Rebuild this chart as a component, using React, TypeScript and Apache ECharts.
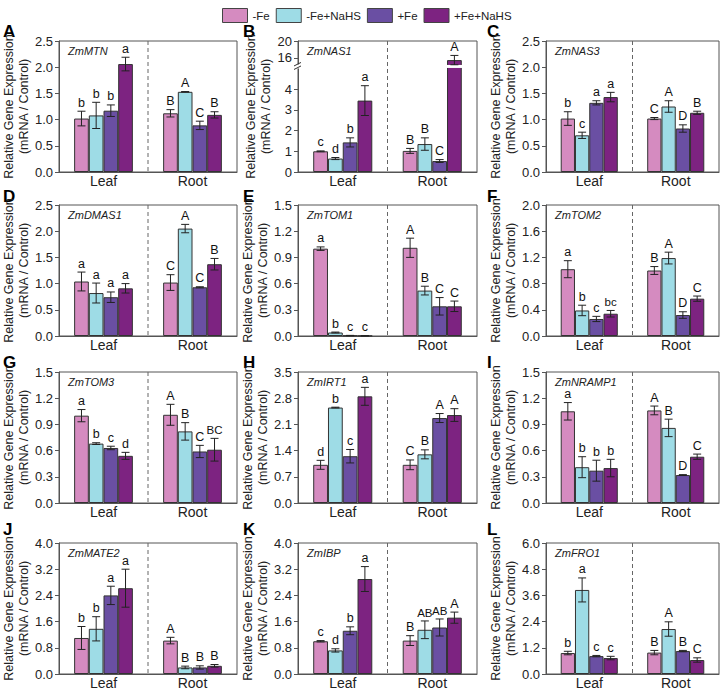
import React, { useEffect, useRef } from 'react';
import * as echarts from 'echarts';

const treatments = ['-Fe', '-Fe+NaHS', '+Fe', '+Fe+NaHS'];
const tissues = ['Leaf', 'Root'];
const colors = ['#D58BC0', '#9EDCE6', '#6A4FA3', '#7D2381'];

// order: Leaf(-Fe, -Fe+NaHS, +Fe, +Fe+NaHS), Root(-Fe, -Fe+NaHS, +Fe, +Fe+NaHS)
const mtnMean = [1.02, 1.08, 1.17, 2.06, 1.12, 1.53, 0.89, 1.09];
const mtnErr = [0.14, 0.25, 0.11, 0.13, 0.07, 0.005, 0.08, 0.06];
const mtnSig = ['b', 'b', 'b', 'a', 'B', 'A', 'C', 'B'];

const nas1Mean = [1.0, 0.65, 1.43, 3.45, 1.02, 1.35, 0.53, 15.5];
const nas1Err = [0.02, 0.05, 0.22, 0.72, 0.12, 0.3, 0.07, 1.1];
const nas1Sig = ['c', 'd', 'b', 'a', 'B', 'B', 'C', 'A'];
const nas1Ticks = [0, 1, 2, 3, 4, 16, 20];

const nas3Mean = [1.02, 0.7, 1.32, 1.43, 1.02, 1.25, 0.83, 1.13];
const nas3Err = [0.13, 0.06, 0.04, 0.09, 0.02, 0.11, 0.07, 0.03];
const nas3Sig = ['b', 'c', 'a', 'a', 'C', 'A', 'D', 'B'];

const dmas1Mean = [1.04, 0.82, 0.74, 0.91, 1.02, 2.05, 0.93, 1.37];
const dmas1Err = [0.18, 0.19, 0.1, 0.09, 0.15, 0.08, 0.01, 0.11];
const dmas1Sig = ['a', 'a', 'a', 'a', 'C', 'A', 'C', 'B'];

const tom1Mean = [1.0, 0.04, 0.005, 0.002, 1.01, 0.52, 0.34, 0.34];
const tom1Err = [0.02, 0.005, 0.002, 0.001, 0.11, 0.05, 0.1, 0.06];
const tom1Sig = ['a', 'b', 'c', 'c', 'A', 'B', 'C', 'C'];

const tom2Mean = [1.02, 0.39, 0.26, 0.34, 1.0, 1.19, 0.32, 0.57];
const tom2Err = [0.13, 0.08, 0.04, 0.05, 0.06, 0.09, 0.05, 0.04];
const tom2Sig = ['a', 'b', 'c', 'bc', 'B', 'A', 'D', 'C'];

const tom3Mean = [1.0, 0.68, 0.63, 0.54, 1.01, 0.82, 0.59, 0.61];
const tom3Err = [0.07, 0.01, 0.02, 0.04, 0.12, 0.1, 0.07, 0.13];
const tom3Sig = ['a', 'b', 'c', 'd', 'A', 'B', 'C', 'BC'];

const irt1Mean = [1.02, 2.55, 1.25, 2.85, 1.02, 1.3, 2.27, 2.35];
const irt1Err = [0.12, 0.01, 0.18, 0.24, 0.13, 0.12, 0.12, 0.17];
const irt1Sig = ['d', 'b', 'c', 'a', 'C', 'B', 'A', 'A'];

const nramp1Mean = [1.05, 0.41, 0.37, 0.4, 1.06, 0.86, 0.32, 0.53];
const nramp1Err = [0.1, 0.12, 0.12, 0.1, 0.05, 0.1, 0.005, 0.03];
const nramp1Sig = ['a', 'b', 'b', 'b', 'A', 'B', 'D', 'C'];

const mate2Mean = [1.1, 1.38, 2.4, 2.62, 1.02, 0.2, 0.2, 0.25];
const mate2Err = [0.35, 0.37, 0.28, 0.58, 0.1, 0.04, 0.05, 0.04];
const mate2Sig = ['b', 'b', 'a', 'a', 'A', 'B', 'B', 'B'];

const ibpMean = [1.0, 0.72, 1.32, 2.9, 1.02, 1.35, 1.42, 1.72];
const ibpErr = [0.02, 0.05, 0.12, 0.38, 0.15, 0.27, 0.26, 0.17];
const ibpSig = ['c', 'd', 'b', 'a', 'B', 'AB', 'AB', 'A'];

const fro1Mean = [0.96, 3.85, 0.82, 0.73, 0.98, 2.06, 1.05, 0.64];
const fro1Err = [0.08, 0.55, 0.03, 0.08, 0.1, 0.33, 0.03, 0.1];
const fro1Sig = ['b', 'a', 'c', 'c', 'B', 'A', 'B', 'C'];

const geneNames = ['ZmMTN', 'ZmNAS1', 'ZmNAS3', 'ZmDMAS1', 'ZmTOM1', 'ZmTOM2', 'ZmTOM3', 'ZmIRT1', 'ZmNRAMP1', 'ZmMATE2', 'ZmIBP', 'ZmFRO1'];
const panelTags = ['A', 'B', 'C', 'D', 'E', 'F', 'G', 'H', 'I', 'J', 'K', 'L'];
const axisMax = [2.5, 20, 2.5, 2.5, 1.5, 2.0, 1.5, 3.5, 1.5, 4.0, 4.0, 6.0];
const axisStep = [0.5, 1, 0.5, 0.5, 0.3, 0.4, 0.3, 0.7, 0.3, 0.8, 0.8, 1.2];

const meanSets = [mtnMean, nas1Mean, nas3Mean, dmas1Mean, tom1Mean, tom2Mean, tom3Mean, irt1Mean, nramp1Mean, mate2Mean, ibpMean, fro1Mean];
const errSets = [mtnErr, nas1Err, nas3Err, dmas1Err, tom1Err, tom2Err, tom3Err, irt1Err, nramp1Err, mate2Err, ibpErr, fro1Err];
const sigSets = [mtnSig, nas1Sig, nas3Sig, dmas1Sig, tom1Sig, tom2Sig, tom3Sig, irt1Sig, nramp1Sig, mate2Sig, ibpSig, fro1Sig];

// layout
const GAP = 0.34;
const colLeft = [59, 298, 546];
const colWidth = [178, 179, 173];
const rowTop = [41, 205, 372, 543];
const rowHeight = 131;
const tagX = [3, 243, 487];
const tagY = [31, 196, 362, 529];
const FONT = "'Liberation Sans', Arial, Helvetica, sans-serif";

// broken axis for panel B
const BREAK_LOW = 5.1;
const BREAK_HIGH = 14;
const UPPER_SCALE = 0.205;
const breakT = (v: number) => (v <= BREAK_LOW ? v : BREAK_LOW + (v - BREAK_HIGH) * UPPER_SCALE);

function makeRenderer(sig: string[], isBreak: boolean) {
  return (params: any, api: any) => {
    const cat = api.value(0);
    const tr = api.value(1);
    const m = api.value(2);
    const lo = api.value(3);
    const hi = api.value(4);
    const band = api.size([1, 0])[0];
    const total = band * (1 - GAP);
    const bw = total / 4;
    const base = api.coord([cat, m]);
    const x = base[0] - total / 2 + bw * (tr + 0.5);
    const yTop = api.coord([cat, hi])[1];
    const yBot = api.coord([cat, lo])[1];
    const cs = params.coordSys;
    const children: any[] = [];
    if (params.dataIndex === 0) {
      const mx = cs.x + cs.width / 2;
      children.push({
        type: 'line',
        shape: { x1: mx, y1: cs.y, x2: mx, y2: cs.y + cs.height },
        style: { stroke: '#666', lineWidth: 1, lineDash: [4, 3] },
      });
      if (isBreak) {
        const yb = api.coord([cat, BREAK_LOW])[1];
        children.push({ type: 'rect', shape: { x: cs.x - 5, y: yb - 2, width: 10, height: 4 }, style: { fill: '#fff' } });
        children.push({ type: 'line', shape: { x1: cs.x - 4, y1: yb - 0.5, x2: cs.x + 3, y2: yb - 4 }, style: { stroke: '#333', lineWidth: 1 } });
        children.push({ type: 'line', shape: { x1: cs.x - 4, y1: yb + 3, x2: cs.x + 3, y2: yb - 0.5 }, style: { stroke: '#333', lineWidth: 1 } });
      }
    }
    if (isBreak && m > BREAK_LOW) {
      const yb = api.coord([cat, BREAK_LOW])[1];
      children.push({ type: 'rect', shape: { x: x - bw / 2 - 1, y: yb - 1.5, width: bw + 2, height: 3 }, style: { fill: '#fff' } });
    }
    children.push({ type: 'line', shape: { x1: x, y1: yBot, x2: x, y2: yTop }, style: { stroke: '#222', lineWidth: 1 } });
    children.push({ type: 'line', shape: { x1: x - 4, y1: yTop, x2: x + 4, y2: yTop }, style: { stroke: '#222', lineWidth: 1 } });
    children.push({ type: 'line', shape: { x1: x - 4, y1: yBot, x2: x + 4, y2: yBot }, style: { stroke: '#222', lineWidth: 1 } });
    const label = sig[params.dataIndex];
    children.push({
      type: 'text',
      x: x,
      y: yTop - 2,
      style: {
        text: label,
        align: 'center',
        verticalAlign: 'bottom',
        textAlign: 'center',
        textVerticalAlign: 'bottom',
        fontSize: label.length > 1 ? 11.5 : 12.5,
        fontFamily: FONT,
        fill: '#111',
      },
    });
    return { type: 'group', children };
  };
}

function buildOption() {
  const option: any = {
    animation: false,
    textStyle: { fontFamily: FONT },
    legend: {
      data: treatments,
      top: 3,
      left: 217,
      itemWidth: 25,
      itemHeight: 14,
      itemGap: 6,
      icon: 'rect',
      selectedMode: false,
      textStyle: { fontSize: 11.5, color: '#222', fontFamily: FONT },
      itemStyle: { borderColor: '#444', borderWidth: 1 },
    },
    grid: [] as any[],
    xAxis: [] as any[],
    yAxis: [] as any[],
    series: [] as any[],
    graphic: [] as any[],
  };

  geneNames.forEach((gene, i) => {
    const row = Math.floor(i / 3);
    const col = i % 3;
    const isBreak = i === 1;
    const tf = (v: number) => (isBreak ? breakT(v) : v);
    const mean = meanSets[i];
    const err = errSets[i];
    const sig = sigSets[i];
    const step = axisStep[i];

    option.grid.push({
      left: colLeft[col],
      top: rowTop[row],
      width: colWidth[col],
      height: rowHeight,
      show: true,
      borderColor: '#555',
      borderWidth: 1,
      backgroundColor: 'transparent',
    });
    option.xAxis.push({
      type: 'category',
      gridIndex: i,
      data: tissues,
      axisTick: { show: false },
      axisLine: { lineStyle: { color: '#555' } },
      axisLabel: { fontSize: 14, color: '#222', margin: 2, fontFamily: FONT },
    });
    const yAxis: any = {
      type: 'value',
      gridIndex: i,
      min: 0,
      max: tf(axisMax[i]),
      splitLine: { show: false },
      axisLine: { show: true, lineStyle: { color: '#555' } },
      axisTick: { show: true, length: 4, lineStyle: { color: '#555' } },
      axisLabel: { fontSize: 13, color: '#222', margin: 6, fontFamily: FONT },
      name: 'Relative Gene Expression\n(mRNA / Control)',
      nameLocation: 'middle',
      nameGap: 21,
      nameTextStyle: { fontSize: 12.5, lineHeight: 15, color: '#222', fontFamily: FONT },
    };
    if (isBreak) {
      const vals = nas1Ticks.map(breakT);
      yAxis.axisLabel.customValues = vals;
      yAxis.axisTick.customValues = vals;
      yAxis.axisLabel.formatter = (v: number) => {
        const k = nas1Ticks.find((t) => Math.abs(breakT(t) - v) < 1e-6);
        return k === undefined ? '' : String(k);
      };
    } else {
      yAxis.interval = step;
      yAxis.axisLabel.formatter = (v: number) => v.toFixed(1);
    }
    option.yAxis.push(yAxis);

    treatments.forEach((name, t) => {
      option.series.push({
        type: 'bar',
        name,
        xAxisIndex: i,
        yAxisIndex: i,
        data: [tf(mean[t]), tf(mean[4 + t])],
        barGap: '0%',
        barCategoryGap: GAP * 100 + '%',
        itemStyle: { color: colors[t], borderColor: '#333', borderWidth: 1 },
        silent: true,
      });
    });

    const ebData: number[][] = [];
    for (let k = 0; k < 8; k++) {
      const cat = k < 4 ? 0 : 1;
      const t = k % 4;
      ebData.push([cat, t, tf(mean[k]), tf(mean[k] - err[k]), tf(mean[k] + err[k])]);
    }
    option.series.push({
      type: 'custom',
      xAxisIndex: i,
      yAxisIndex: i,
      data: ebData,
      encode: { x: 0, y: 2 },
      renderItem: makeRenderer(sig, isBreak),
      clip: false,
      silent: true,
      z: 5,
    });

    option.graphic.push({
      type: 'text',
      x: colLeft[col] + 9,
      y: rowTop[row] + 10,
      style: {
        text: gene,
        font: `italic 11px ${FONT}`,
        fill: '#222',
        textVerticalAlign: 'middle',
        verticalAlign: 'middle',
      },
      silent: true,
    });
    option.graphic.push({
      type: 'text',
      x: tagX[col],
      y: tagY[row],
      style: {
        text: panelTags[i],
        font: `bold 17px ${FONT}`,
        fill: '#000',
        textVerticalAlign: 'middle',
        verticalAlign: 'middle',
      },
      silent: true,
    });
  });
  return option;
}

export default function App() {
  const ref = useRef<HTMLDivElement>(null);
  useEffect(() => {
    if (!ref.current) return;
    const chart = echarts.init(ref.current, undefined, { renderer: 'svg' });
    chart.setOption(buildOption());
    return () => chart.dispose();
  }, []);
  return (
    <div
      ref={ref}
      style={{ position: 'absolute', left: 0, top: 0, width: 722, height: 691, background: '#fff' }}
    />
  );
}
